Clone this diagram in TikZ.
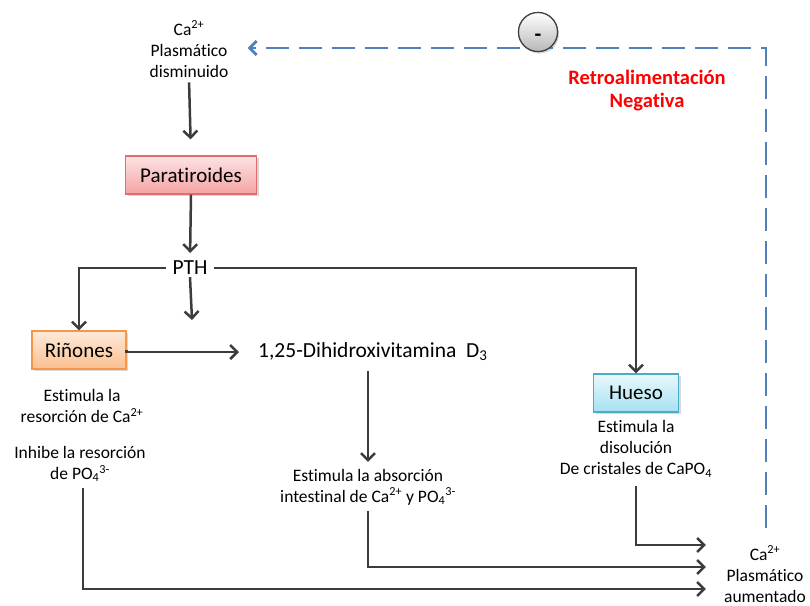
\documentclass[tikz,border=0pt]{standalone}
\usepackage{fontspec}
\setmainfont{Carlito}[Ligatures=NoCommon]
\usepackage{xcolor}
\usetikzlibrary{arrows.meta,positioning,calc,shadows}

\definecolor{linegray}{HTML}{3C3C3C}
\definecolor{fbblue}{HTML}{4F81BD}
\definecolor{pinkedge}{HTML}{E06C6C}
\definecolor{pinktop}{HTML}{FDE3E3}
\definecolor{pinkbot}{HTML}{F5A3A3}
\definecolor{orangeedge}{HTML}{F79646}
\definecolor{orangetop}{HTML}{FDEADA}
\definecolor{orangebot}{HTML}{FAC08F}
\definecolor{blueedge}{HTML}{4BACC6}
\definecolor{bluetop}{HTML}{E9F8FC}
\definecolor{bluebot}{HTML}{A6E1F2}

\begin{document}
\begin{tikzpicture}[x=1pt,y=-1pt,
  organ/.style={draw,line width=1.2pt,minimum height=38pt,
                font=\fontsize{21}{25}\selectfont,
                drop shadow={opacity=0.3,shadow xshift=2pt,shadow yshift=-2pt}},
  note/.style={align=center,inner sep=2pt,font=\fontsize{17.5}{21}\selectfont},
  big/.style={inner sep=2pt,font=\fontsize{21.5}{25}\selectfont},
  minusball/.style={circle,draw=black!75,line width=1.2pt,minimum size=39pt,inner sep=0pt,
                    top color=white,bottom color=black!28,text height=12pt,text depth=0pt,
                    font=\bfseries\fontsize{22}{22}\selectfont},
  arrow/.style={-{Straight Barb[length=7pt,width=14pt]},line width=2.5pt,draw=linegray},
  feedback/.style={-{Straight Barb[length=7pt,width=14pt]},line width=2.8pt,
                   draw=fbblue,dash pattern=on 23pt off 10pt}
]
\useasboundingbox (0,0) rectangle (810,605);

% top: low calcium
\node[note] (calow) at (189,49) {Ca\textsuperscript{2+}\\Plasmático\\disminuido};
\node[organ,top color=pinktop,bottom color=pinkbot,draw=pinkedge,
      minimum width=131pt] (para) at (191,175) {Paratiroides};
\node[big,inner xsep=6pt] (pth) at (190,268) {PTH};
\coordinate (pthend) at (192,320);

% targets of PTH
\node[organ,top color=orangetop,bottom color=orangebot,draw=orangeedge,
      minimum width=94pt] (rin) at (79,350) {Riñones};
\node[big,anchor=west] (vit) at (256,352) {1,25-Dihidroxivitamina~~D\textsubscript{3}};
\node[organ,top color=bluetop,bottom color=bluebot,draw=blueedge,
      minimum width=85pt] (hueso) at (636,393) {Hueso};

% effects
\node[note] (rinnote) at (82,406) {Estimula la\\resorción de Ca\textsuperscript{2+}};
\node[note] (rinnote2) at (80,464) {Inhibe la resorción\\de PO\textsubscript{4}\textsuperscript{3-}};
\node[note] (intest) at (368,487) {Estimula la absorción\\intestinal de Ca\textsuperscript{2+} y PO\textsubscript{4}\textsuperscript{3-}};
\node[note] (huesonote) at (636,449) {Estimula la\\disolución\\De cristales de CaPO\textsubscript{4}};
\node[note] (cah) at (765,574) {Ca\textsuperscript{2+}\\Plasmático\\aumentado};

% feedback
\node[minusball,drop shadow={opacity=0.35,shadow xshift=1.5pt,shadow yshift=-2pt}]
  (minus) at (538,32) {\raisebox{-3pt}{-}};
\node[align=center,text=red,font=\bfseries\fontsize{20.5}{23}\selectfont] (fbtext) at (647,91)
  {Retroalimentación\\Negativa};

\draw[arrow,shorten <=3pt,shorten >=16pt] (calow.south) -- (para.north);
\draw[arrow,shorten >=6pt] (para.south) -- (pth.north);
\draw[arrow] (pth.west) -| (rin.north);
\draw[arrow] (pth.east) -| (hueso.north);
\draw[arrow] (pth.south) -- (pthend);
\draw[arrow,shorten >=17pt] (rin.east) -- (vit.west -| rin.east) -- (vit.west);
\draw[arrow,shorten <=8pt,shorten >=5pt] (intest.north |- vit.south) -- (intest.north);

\draw[arrow,shorten <=6pt,shorten >=16pt] (huesonote.south) |- ([yshift=29pt]cah.west);
\draw[arrow,shorten <=4pt,shorten >=16pt] (intest.south) |- ([yshift=7pt]cah.west);
\draw[arrow,shorten <=4pt,shorten >=16pt] ([xshift=3pt]rinnote2.south) |- ([yshift=-15pt]cah.west);

\draw[feedback,shorten <=16pt,shorten >=17pt] ([xshift=1pt]cah.north) |- ([yshift=1pt]calow.east);
\node[minusball] at (minus) {\raisebox{-3pt}{-}};
\end{tikzpicture}
\end{document}
